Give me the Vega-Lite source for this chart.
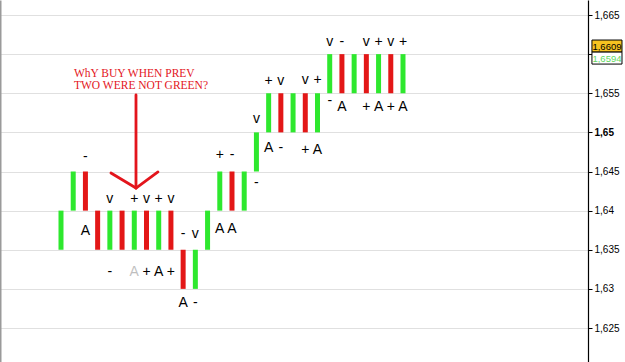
{
  "$schema": "https://vega.github.io/schema/vega-lite/v6.json",
  "width": 588,
  "height": 362,
  "autosize": {"type": "none"},
  "padding": {"left": 0, "top": 0, "right": 37, "bottom": 0},
  "background": "white",
  "config": {"view": {"stroke": null}, "font": "Liberation Sans"},
  "datasets": {
    "bars": [
      {"i": 0, "lo": 1.635, "hi": 1.64, "c": "up"},
      {"i": 1, "lo": 1.64, "hi": 1.645, "c": "up"},
      {"i": 2, "lo": 1.64, "hi": 1.645, "c": "down"},
      {"i": 3, "lo": 1.635, "hi": 1.64, "c": "down"},
      {"i": 4, "lo": 1.635, "hi": 1.64, "c": "up"},
      {"i": 5, "lo": 1.635, "hi": 1.64, "c": "down"},
      {"i": 6, "lo": 1.635, "hi": 1.64, "c": "up"},
      {"i": 7, "lo": 1.635, "hi": 1.64, "c": "down"},
      {"i": 8, "lo": 1.635, "hi": 1.64, "c": "up"},
      {"i": 9, "lo": 1.635, "hi": 1.64, "c": "down"},
      {"i": 10, "lo": 1.63, "hi": 1.635, "c": "down"},
      {"i": 11, "lo": 1.63, "hi": 1.635, "c": "up"},
      {"i": 12, "lo": 1.635, "hi": 1.64, "c": "up"},
      {"i": 13, "lo": 1.64, "hi": 1.645, "c": "up"},
      {"i": 14, "lo": 1.64, "hi": 1.645, "c": "down"},
      {"i": 15, "lo": 1.64, "hi": 1.645, "c": "up"},
      {"i": 16, "lo": 1.645, "hi": 1.65, "c": "up"},
      {"i": 17, "lo": 1.65, "hi": 1.655, "c": "up"},
      {"i": 18, "lo": 1.65, "hi": 1.655, "c": "down"},
      {"i": 19, "lo": 1.65, "hi": 1.655, "c": "up"},
      {"i": 20, "lo": 1.65, "hi": 1.655, "c": "down"},
      {"i": 21, "lo": 1.65, "hi": 1.655, "c": "up"},
      {"i": 22, "lo": 1.655, "hi": 1.66, "c": "up"},
      {"i": 23, "lo": 1.655, "hi": 1.66, "c": "down"},
      {"i": 24, "lo": 1.655, "hi": 1.66, "c": "up"},
      {"i": 25, "lo": 1.655, "hi": 1.66, "c": "down"},
      {"i": 26, "lo": 1.655, "hi": 1.66, "c": "up"},
      {"i": 27, "lo": 1.655, "hi": 1.66, "c": "down"},
      {"i": 28, "lo": 1.655, "hi": 1.66, "c": "up"}
    ],
    "labels": [
      {"i": 2, "p": 1.64634, "t": "-"},
      {"i": 2, "p": 1.63694, "t": "A"},
      {"i": 4, "p": 1.64097, "t": "v"},
      {"i": 6, "p": 1.64097, "t": "+"},
      {"i": 7, "p": 1.64097, "t": "v"},
      {"i": 8, "p": 1.64097, "t": "+"},
      {"i": 9, "p": 1.64097, "t": "v"},
      {"i": 4, "p": 1.63165, "t": "-"},
      {"i": 6, "p": 1.63165, "t": "A", "faint": true},
      {"i": 7, "p": 1.63165, "t": "+"},
      {"i": 8, "p": 1.63165, "t": "A"},
      {"i": 9, "p": 1.63165, "t": "+"},
      {"i": 10, "p": 1.6365, "t": "-"},
      {"i": 11, "p": 1.6365, "t": "v"},
      {"i": 10, "p": 1.62762, "t": "A"},
      {"i": 11, "p": 1.62762, "t": "-"},
      {"i": 13, "p": 1.6466, "t": "+"},
      {"i": 14, "p": 1.6466, "t": "-"},
      {"i": 13, "p": 1.6372, "t": "A"},
      {"i": 14, "p": 1.6372, "t": "A"},
      {"i": 16, "p": 1.65126, "t": "v"},
      {"i": 16, "p": 1.64302, "t": "-"},
      {"i": 17, "p": 1.65605, "t": "+"},
      {"i": 18, "p": 1.65605, "t": "v"},
      {"i": 17, "p": 1.64743, "t": "A"},
      {"i": 18, "p": 1.64743, "t": "-"},
      {"i": 20, "p": 1.65612, "t": "v"},
      {"i": 21, "p": 1.65612, "t": "+"},
      {"i": 20, "p": 1.6473, "t": "+"},
      {"i": 21, "p": 1.6473, "t": "A"},
      {"i": 22, "p": 1.6611, "t": "v"},
      {"i": 23, "p": 1.6611, "t": "-"},
      {"i": 25, "p": 1.6611, "t": "v"},
      {"i": 26, "p": 1.6611, "t": "+"},
      {"i": 27, "p": 1.6611, "t": "v"},
      {"i": 28, "p": 1.6611, "t": "+"},
      {"i": 22, "p": 1.6535, "t": "-"},
      {"i": 23, "p": 1.65267, "t": "A"},
      {"i": 25, "p": 1.65267, "t": "+"},
      {"i": 26, "p": 1.65267, "t": "A"},
      {"i": 27, "p": 1.65267, "t": "+"},
      {"i": 28, "p": 1.65267, "t": "A"}
    ],
    "note": [
      {"i": 1.064, "p": 1.65708, "t": "WhY BUY WHEN PREV"},
      {"i": 1.064, "p": 1.65554, "t": "TWO WERE NOT GREEN?"}
    ],
    "arrow": [
      {"i": 6.14, "p": 1.65478, "i2": 6.14, "p2": 1.64289},
      {"i": 4.09, "p": 1.64481, "i2": 6.14, "p2": 1.64289},
      {"i": 7.94, "p": 1.64494, "i2": 6.14, "p2": 1.64289}
    ],
    "tags": [
      {"k": "last", "t": "1,6609", "p": 1.6609, "lo": 1.66026, "hi": 1.6618, "i": 43.47, "i2": 45.93, "im": 44.7},
      {"k": "prev", "t": "1,6594", "p": 1.6594, "lo": 1.65873, "hi": 1.66026, "i": 43.47, "i2": 45.93, "im": 44.7}
    ]
  },
  "layer": [
    {
      "data": {"name": "bars"},
      "mark": {"type": "rule", "strokeWidth": 5, "strokeCap": "butt"},
      "encoding": {
        "x": {
          "field": "i", "type": "quantitative",
          "scale": {"domain": [-4.994, 43.147], "nice": false, "zero": false},
          "axis": {
            "orient": "bottom", "title": null, "labels": false, "ticks": false, "domain": false,
            "values": [-2, 1, 4, 7, 10, 13, 16, 20, 23, 26, 29, 32, 35, 38, 41],
            "grid": true,
            "gridColor": {"condition": {"test": "datum.value == 20", "value": "#a8a8a8"}, "value": "#e0e0e0"},
            "gridWidth": {"condition": {"test": "datum.value == 20", "value": 1.5}, "value": 1}
          }
        },
        "y": {
          "field": "lo", "type": "quantitative",
          "scale": {"domain": [1.620655, 1.666917], "nice": false, "zero": false},
          "axis": {
            "orient": "right", "title": null,
            "values": [1.625, 1.63, 1.635, 1.64, 1.645, 1.65, 1.655, 1.66, 1.665],
            "grid": true, "gridColor": "#e0e0e0",
            "domainColor": "black", "domainWidth": 1.2,
            "tickColor": "black", "tickSize": 4, "labelPadding": 2,
            "labelFontSize": 10, "labelColor": "black", "labelFont": "Liberation Sans",
            "labelExpr": "datum.value == 1.66 ? '' : replace(format(datum.value, '.3~f'), '.', ',')",
            "labelFontWeight": {"condition": {"test": "datum.value == 1.65", "value": "bold"}, "value": "normal"}
          }
        },
        "y2": {"field": "hi"},
        "color": {
          "field": "c", "type": "nominal",
          "scale": {"domain": ["up", "down"], "range": ["#2ee82e", "#e31717"]},
          "legend": null
        }
      }
    },
    {
      "data": {"name": "labels"},
      "mark": {"type": "text", "fontSize": 14, "font": "Liberation Sans", "align": "center", "baseline": "alphabetic", "color": "black"},
      "encoding": {
        "x": {"field": "i", "type": "quantitative", "axis": null},
        "y": {
          "field": "p", "type": "quantitative",
          "axis": {"orient": "left", "title": null, "labels": false, "ticks": false, "grid": false, "domain": true, "domainColor": "#9a9a9a", "domainWidth": 2}
        },
        "text": {"field": "t"},
        "opacity": {"condition": {"test": "datum.faint", "value": 0.25}, "value": 1}
      }
    },
    {
      "data": {"name": "note"},
      "mark": {"type": "text", "fontSize": 11.5, "font": "Liberation Serif", "align": "left", "baseline": "alphabetic", "color": "#e3151c"},
      "encoding": {
        "x": {"field": "i", "type": "quantitative", "axis": null},
        "y": {"field": "p", "type": "quantitative", "axis": null},
        "text": {"field": "t"}
      }
    },
    {
      "data": {"name": "arrow"},
      "mark": {"type": "rule", "strokeWidth": 2.8, "color": "#e3151c", "strokeCap": "round"},
      "encoding": {
        "x": {"field": "i", "type": "quantitative", "axis": null},
        "y": {"field": "p", "type": "quantitative", "axis": null},
        "x2": {"field": "i2"},
        "y2": {"field": "p2"}
      }
    },
    {
      "data": {"name": "tags"},
      "mark": {"type": "rect", "stroke": "black", "strokeWidth": 1},
      "encoding": {
        "x": {"field": "i", "type": "quantitative", "axis": null},
        "x2": {"field": "i2"},
        "y": {"field": "lo", "type": "quantitative", "axis": null},
        "y2": {"field": "hi"},
        "fill": {"condition": {"test": "datum.k == 'last'", "value": "#f6c320"}, "value": "white"}
      }
    },
    {
      "data": {"name": "tags"},
      "mark": {"type": "text", "fontSize": 9.5, "font": "Liberation Sans", "align": "center", "baseline": "middle"},
      "encoding": {
        "x": {"field": "im", "type": "quantitative", "axis": null},
        "y": {"field": "p", "type": "quantitative", "axis": null},
        "text": {"field": "t"},
        "color": {"condition": {"test": "datum.k == 'last'", "value": "black"}, "value": "#5fd85f"}
      }
    }
  ],
  "resolve": {"axis": {"y": "independent"}}
}
